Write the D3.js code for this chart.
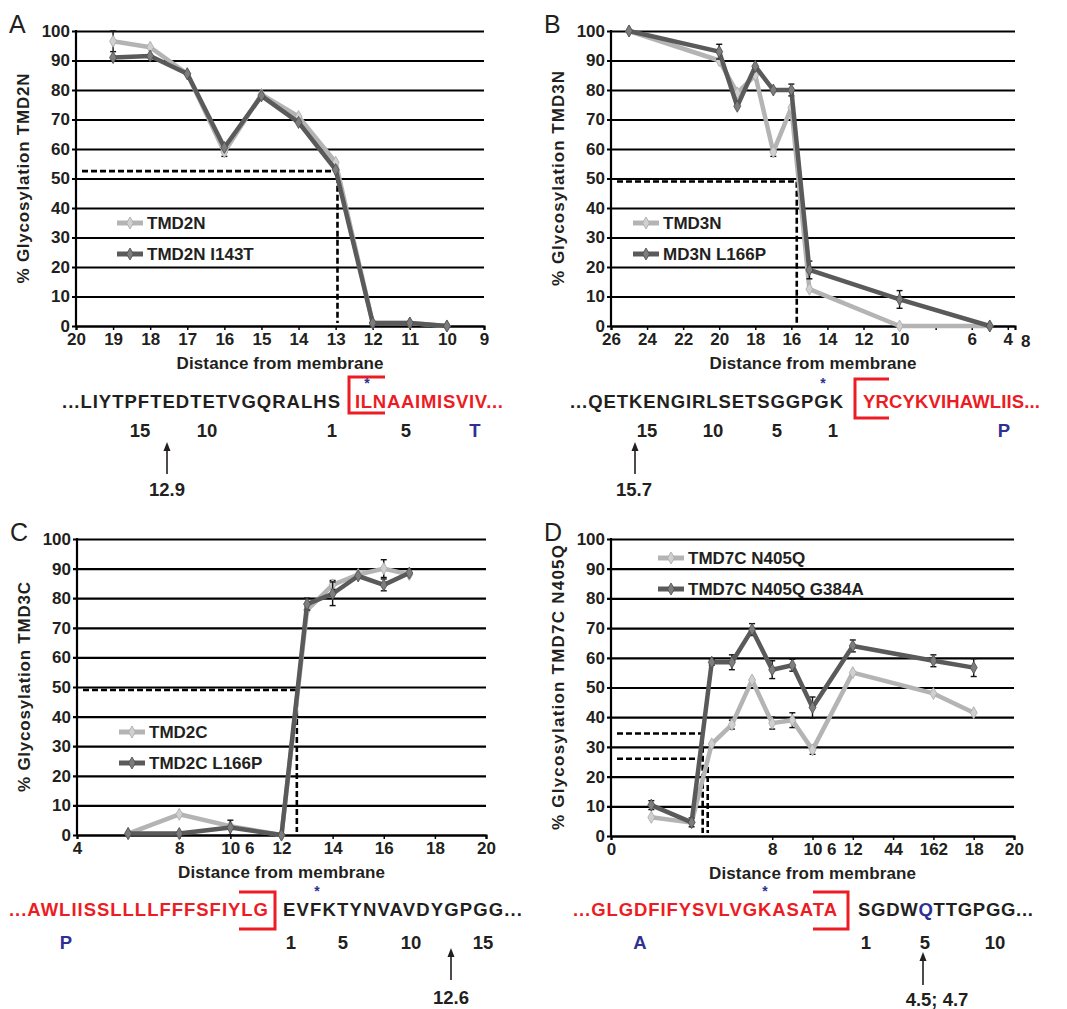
<!doctype html>
<html>
<head>
<meta charset="utf-8">
<title>Glycosylation vs distance from membrane</title>
<script src="https://cdn.jsdelivr.net/npm/d3@7"></script>
<style>
body { margin: 0; background: #fff; }
svg { font-family: 'Liberation Sans', Arial, sans-serif; }
.tick text { font-weight: bold; font-size: 17px; fill: #231f20; }
.title { font-weight: bold; font-size: 17px; fill: #231f20; }
.legend { font-weight: bold; font-size: 17px; fill: #231f20; }
.seq { font-weight: bold; font-size: 18.5px; }
.star { font-weight: bold; font-size: 14px; }
.letter { font-size: 25px; fill: #231f20; }
</style>
</head>
<body>
<svg id="fig" width="1067" height="1009"></svg>
<script>
// ---------- data ----------
// A: TMD2N
const aDist = [19, 18, 17, 16, 15, 14, 13, 12, 11, 10];
const aWT = [96.5, 94.5, 85.5, 59, 78.5, 71, 55.5, 1, 1, 0];
const aWTerr = [3.5, 0, 0, 1.5, 0, 0, 0, 0, 0, 0];
const aMut = [91, 91.5, 85.5, 60.5, 78, 69, 53, 1, 1, 0];
const aMuterr = [0, 0, 0, 0, 0, 0, 0, 0, 0, 0];
const aNames = ['TMD2N', 'TMD2N I143T'];
const aTicks = [20, 19, 18, 17, 16, 15, 14, 13, 12, 11, 10, 9];
const aTickLabels = ['20', '19', '18', '17', '16', '15', '14', '13', '12', '11', '10', '9'];
const aCuts = [[12.95, 52.5]];

// B: TMD3N
const bDist = [25, 20, 19, 18, 17, 16, 15, 10, 5];
const bWT = [100, 90, 79, 85, 59, 74, 12.5, 0, 0];
const bWTerr = [0, 0, 0, 0, 1.5, 0, 0, 0, 0];
const bMut = [100, 93, 74.5, 88, 80, 80, 19, 9, 0];
const bMuterr = [0, 2.5, 0, 0, 0, 2, 3, 3, 0];
const bNames = ['TMD3N', 'MD3N L166P'];
const bTicks = [26, 24, 22, 20, 18, 16, 14, 12, 10, 8, 6, 4];
const bTickLabels = ['26', '24', '22', '20', '18', '16', '14', '12', '10', '', '6', '4'];
const bCuts = [[15.7, 49]];

// C: TMD2C
const cDist = [6, 8, 10, 12, 13, 14, 15, 16, 17];
const cWT = [0.5, 7, 3, 0, 76, 84.5, 88, 90, 88];
const cWTerr = [0, 0, 0, 0, 0, 1.5, 0, 3, 0];
const cMut = [0.5, 0.5, 2.5, 0, 78, 81.5, 87.5, 84.5, 88.5];
const cMuterr = [0, 0, 2.5, 0, 2, 4, 0, 2, 0];
const cNames = ['TMD2C', 'TMD2C L166P'];
const cTicks = [4, 8, 10, 12, 14, 16, 18, 20];
const cTickLabels = ['4', '8', '10 6', '12', '14', '16', '18', '20'];
const cCuts = [[12.6, 49]];

// D: TMD7C N405Q
const dDist = [2, 4, 5, 6, 7, 8, 9, 10, 12, 16, 18];
const dWT = [6.3, 4.5, 31, 37.5, 52.5, 38, 39, 29, 55, 48, 41.5];
const dWTerr = [0, 0, 0, 1.5, 0, 2, 2.5, 1.5, 0, 0, 0];
const dMut = [10.4, 4.6, 58.5, 58.5, 69.5, 56, 57.5, 43.3, 64, 59, 56.7];
const dMuterr = [1.5, 1.5, 1, 2.5, 2, 3, 2, 3.5, 2, 2, 3];
const dNames = ['TMD7C N405Q', 'TMD7C N405Q G384A'];
const dTicks = [0, 8, 10, 12, 14, 16, 18, 20];
const dTickLabels = ['0', '8', '10 6', '12', '44', '162', '18', '20'];
const dCuts = [[4.55, 34.5], [4.8, 26]];

const yTicks = d3.range(0, 101, 10);

// ---------- drawing ----------
const svg = d3.select('#fig');
const LIGHT = '#b4b4b4', DARK = '#5a5a5a';
const RED = '#ed1c24', BLUE = '#2e3192', BLACK = '#231f20';

function zip(xs, ys, es) {
  return xs.map((v, i) => ({ x: v, y: ys[i], e: es[i] }));
}

function panel(p) {
  const g = svg.append('g');
  const x = d3.scaleLinear().domain(p.xDomain).range([p.left, p.right]);
  const y = d3.scaleLinear().domain([0, 100]).range([p.bottom, p.top]);

  // grid lines + y labels
  g.append('g')
    .attr('transform', 'translate(' + p.left + ',0)')
    .call(d3.axisLeft(y).tickValues(yTicks).tickSize(-(p.right - p.left)).tickPadding(6))
    .call(a => {
      a.select('.domain').remove();
      a.selectAll('.tick line').attr('stroke', '#000').attr('stroke-width', 2.2).attr('x1', -4);
    });

  // x axis
  g.append('g')
    .attr('transform', 'translate(0,' + p.bottom + ')')
    .call(d3.axisBottom(x).tickValues(p.ticks).tickFormat((d, i) => p.tickLabels[i]).tickSizeOuter(0).tickSize(4).tickPadding(3))
    .call(a => {
      a.select('.domain').attr('stroke', '#000').attr('stroke-width', 2.2);
      a.selectAll('.tick line').attr('stroke', '#000').attr('stroke-width', 1.5);
      if (p.shiftTen) a.selectAll('.tick text').filter(d => d === 10).attr('dx', 7);
    });
  if (p.extraTick) {
    g.append('text').attr('class', 'title').attr('x', x(p.extraTick[0])).attr('y', p.bottom + 21)
      .attr('text-anchor', 'middle').text(p.extraTick[1]);
  }

  // y axis line
  g.append('line').attr('x1', p.left).attr('x2', p.left).attr('y1', p.top - 1).attr('y2', p.bottom)
    .attr('stroke', '#000').attr('stroke-width', 2.2);

  // titles
  g.append('text').attr('class', 'title').attr('text-anchor', 'middle')
    .attr('x', (p.left + p.right) / 2).attr('y', p.bottom + 43)
    .attr('textLength', 207).text('Distance from membrane');
  g.append('text').attr('class', 'title').attr('text-anchor', 'middle')
    .attr('transform', 'translate(' + (p.left - 47) + ',' + ((p.top + p.bottom) / 2) + ') rotate(-90)')
    .attr('textLength', p.ylabLen).text(p.ylab);
  g.append('text').attr('class', 'letter').attr('x', p.left - 67).attr('y', p.top + 2).text(p.letter);

  // dashed cut lines
  p.cuts.forEach(c => {
    g.append('path')
      .attr('d', 'M' + (x(p.xDomain[0]) + 6) + ',' + y(c[1]) + 'H' + x(c[0]) + 'V' + (p.bottom - 3))
      .attr('fill', 'none').attr('stroke', '#000').attr('stroke-width', 2.6).attr('stroke-dasharray', '6,3');
  });

  const line = d3.line().x(d => x(d.x)).y(d => y(d.y));
  const diamond = d3.symbol(d3.symbolDiamond, 42);
  const series = [
    { data: zip(p.dist, p.wt, p.wtErr), color: LIGHT, mark: '#d0d0d0', mstroke: '#a8a8a8' },
    { data: zip(p.dist, p.mut, p.mutErr), color: DARK, mark: '#7d7d7d', mstroke: '#4a4a4a' }
  ];
  series.forEach(s => {
    // error bars
    const eb = g.append('g').attr('stroke', '#111').attr('stroke-width', 1.4);
    s.data.filter(d => d.e > 0).forEach(d => {
      eb.append('line').attr('x1', x(d.x)).attr('x2', x(d.x)).attr('y1', y(d.y + d.e)).attr('y2', y(d.y - d.e));
      [d.y + d.e, d.y - d.e].forEach(v => eb.append('line').attr('x1', x(d.x) - 3).attr('x2', x(d.x) + 3).attr('y1', y(v)).attr('y2', y(v)));
    });
    g.append('path').datum(s.data).attr('d', line).attr('fill', 'none')
      .attr('stroke', s.color).attr('stroke-width', 4.5).attr('stroke-linejoin', 'round');
    g.selectAll(null).data(s.data).join('path')
      .attr('d', diamond).attr('transform', d => 'translate(' + x(d.x) + ',' + y(d.y) + ')')
      .attr('fill', s.mark).attr('stroke', s.mstroke).attr('stroke-width', 0.8);
  });

  // legend
  p.names.forEach((n, i) => {
    const ly = p.legY + i * 31;
    g.append('line').attr('x1', p.legX).attr('x2', p.legX + 26).attr('y1', ly).attr('y2', ly)
      .attr('stroke', series[i].color).attr('stroke-width', 5);
    g.append('path').attr('d', diamond).attr('transform', 'translate(' + (p.legX + 13) + ',' + ly + ')')
      .attr('fill', series[i].mark).attr('stroke', series[i].mstroke).attr('stroke-width', 0.8);
    g.append('text').attr('class', 'legend').attr('x', p.legX + 30).attr('y', ly + 6).text(n);
  });
}

panel({ letter: 'A', left: 76, right: 484, top: 31, bottom: 326, xDomain: [20, 9],
  dist: aDist, wt: aWT, wtErr: aWTerr, mut: aMut, mutErr: aMuterr, names: aNames,
  ticks: aTicks, tickLabels: aTickLabels, cuts: aCuts, legX: 117, legY: 223,
  ylab: '% Glycosylation TMD2N', ylabLen: 210 });
panel({ letter: 'B', left: 611, right: 1015, top: 31, bottom: 326, xDomain: [26, 3.6],
  dist: bDist, wt: bWT, wtErr: bWTerr, mut: bMut, mutErr: bMuterr, names: bNames,
  ticks: bTicks, tickLabels: bTickLabels, cuts: bCuts, legX: 633, legY: 223, extraTick: [3, '8'],
  ylab: '% Glycosylation TMD3N', ylabLen: 215 });
panel({ letter: 'C', left: 77, right: 486, top: 539, bottom: 835, xDomain: [4, 20],
  dist: cDist, wt: cWT, wtErr: cWTerr, mut: cMut, mutErr: cMuterr, names: cNames,
  ticks: cTicks, tickLabels: cTickLabels, cuts: cCuts, legX: 119, legY: 732, shiftTen: true,
  ylab: '% Glycosylation TMD3C', ylabLen: 210 });
panel({ letter: 'D', left: 611, right: 1014, top: 539, bottom: 836, xDomain: [0, 20],
  dist: dDist, wt: dWT, wtErr: dWTerr, mut: dMut, mutErr: dMuterr, names: dNames,
  ticks: dTicks, tickLabels: dTickLabels, cuts: dCuts, legX: 658, legY: 558, shiftTen: true,
  ylab: '% Glycosylation TMD7C N405Q', ylabLen: 285 });

// ---------- sequence annotations ----------
function seqText(x0, y0, len, parts) {
  const t = svg.append('text').attr('class', 'seq').attr('x', x0).attr('y', y0).attr('textLength', len);
  parts.forEach(pt => t.append('tspan').attr('fill', pt[1]).text(pt[0]));
}
function label(x0, y0, s, color) {
  svg.append('text').attr('class', 'seq').attr('x', x0).attr('y', y0)
    .attr('text-anchor', 'middle').attr('fill', color || BLACK).text(s);
}
function star(x0, y0) {
  svg.append('text').attr('class', 'star').attr('x', x0).attr('y', y0)
    .attr('text-anchor', 'middle').attr('fill', BLUE).text('*');
}
function arrow(x0, yTop, yBot) {
  svg.append('line').attr('x1', x0).attr('x2', x0).attr('y1', yTop + 5).attr('y2', yBot)
    .attr('stroke', BLACK).attr('stroke-width', 1.6);
  svg.append('path').attr('d', 'M' + x0 + ',' + yTop + 'l-3.5,9h7z').attr('fill', BLACK);
}
function bracket(d) {
  svg.append('path').attr('d', d).attr('fill', 'none').attr('stroke', RED).attr('stroke-width', 3);
}

// A
seqText(62, 408, 278, [['...LIYTPFTEDTETVGQRALHS', BLACK]]);
seqText(355, 408, 148, [['ILNAAIMISVIV...', RED]]);
bracket('M385,377H349V413H385');
star(367, 388);
label(140, 437, '15'); label(207, 437, '10'); label(332, 437, '1'); label(406, 437, '5'); label(475, 437, 'T', BLUE);
arrow(167, 442, 474);
label(167, 496, '12.9');

// B
seqText(570, 408, 273, [['...QETKENGIRLSETSGGPGK', BLACK]]);
seqText(863, 408, 177, [['YRCYKVIHAWLIIS...', RED]]);
bracket('M889,379H855V418H889');
star(823, 388);
label(647, 437, '15'); label(713, 437, '10'); label(777, 437, '5'); label(833, 437, '1'); label(1004, 437, 'P', BLUE);
arrow(635, 442, 474);
label(634, 496, '15.7');

// C
seqText(9, 916, 259, [['...AWLIISSLLLLFFFSFIYLG', RED]]);
seqText(283, 916, 239, [['EVFKTYNVAVDYGPGG...', BLACK]]);
bracket('M239,892H275V929H239');
star(317, 896);
label(66, 949, 'P', BLUE); label(291, 949, '1'); label(343, 949, '5'); label(411, 949, '10'); label(483, 949, '15');
arrow(451, 948, 980);
label(451, 1004, '12.6');

// D
seqText(573, 916, 264, [['...GLGDFIFYSVLVGKASATA', RED]]);
seqText(858, 916, 175, [['SGDW', BLACK], ['Q', BLUE], ['TTGPGG...', BLACK]]);
bracket('M813,892H848V929H813');
star(765, 896);
label(640, 949, 'A', BLUE); label(866, 949, '1'); label(925, 949, '5'); label(995, 949, '10');
arrow(923, 952, 985);
label(937, 1006, '4.5; 4.7');
</script>
</body>
</html>
